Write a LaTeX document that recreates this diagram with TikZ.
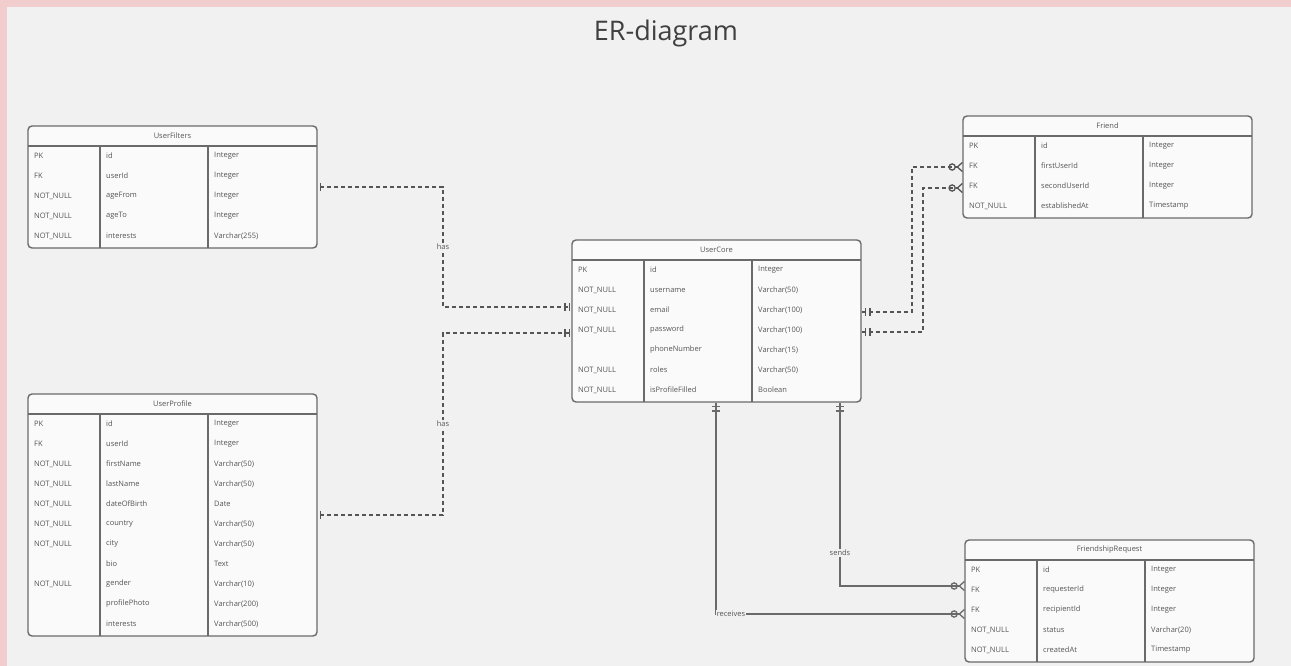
\documentclass[tikz,border=0pt]{standalone}
\usepackage{fontspec}
\setmainfont{Open Sans}
\usetikzlibrary{arrows.meta}

\definecolor{bgc}{HTML}{F1F1F1}
\definecolor{pinkc}{HTML}{F2CDCD}
\definecolor{tablec}{HTML}{FAFAFA}
\definecolor{linec}{HTML}{6A6A6A}
\definecolor{txtc}{HTML}{555555}

% name, west x, north y, number of rows, title, rows (key/name/type)
\newcommand{\ertable}[6]{%
  \node[tbl, minimum height={22+20*#4}, anchor=north west] (#1) at (#2,#3) {};
  \node[ttl] (#1-t) at (#2+144.5,#3+10) {#5};
  \draw[sepline] (#2,#3+20) -- (#2+289,#3+20);
  \draw[sepline] (#2+72,#3+20) -- (#2+72,#3+22+20*#4);
  \draw[sepline] (#2+180,#3+20) -- (#2+180,#3+22+20*#4);
  \foreach \rk/\rn/\rt [count=\i] in {#6} {
    \node[cell] (#1-k\i) at (#2+6,#3+10+20*\i) {\rk};
    \node[cell] (#1-n\i) at (#2+78,#3+10+20*\i) {\rn};
    \node[cell] (#1-y\i) at (#2+186,#3+10+20*\i) {\rt};
  }%
}

\begin{document}
\begin{tikzpicture}[
  x=1pt, y=-1pt,
  tbl/.style   = {draw=linec, fill=tablec, line width=1.4pt, rounded corners=4pt,
                  minimum width=289pt, inner sep=0pt, outer sep=0pt},
  ttl/.style   = {text=txtc, font=\fontsize{7.5}{9}\selectfont, inner sep=0pt},
  cell/.style  = {ttl, anchor=west},
  sepline/.style = {draw=linec, line width=1.4pt},
  lbl/.style   = {text=txtc, font=\fontsize{7.5}{9}\selectfont, fill=bgc, inner sep=1pt},
  dashrel/.style = {draw=txtc, line width=1.4pt, dash pattern=on 4pt off 3pt},
  solidrel/.style = {draw=linec, line width=1.8pt},
  % ER ends: one / mandatory one / zero or many
  hasrel/.style = {dashrel, arrows={Bar[width=0pt,line width=0.1pt,color=bgc,sep=3pt]Bar[width=8pt,line width=1.3pt,sep=0pt]}-{Bar[width=8pt,line width=1.3pt,sep=3pt]Bar[width=8pt,line width=1.3pt,sep=1pt]Bar[width=0pt,line width=0.1pt,color=bgc,sep=1pt]}},
  manyrel/.style = {arrows={Bar[width=0pt,line width=0.1pt,color=bgc,sep=1pt]Bar[width=8pt,line width=1.3pt,sep=3pt]Bar[width=8pt,line width=1.3pt,sep=3pt]}-{Circle[open,length=7.5pt,line width=1.3pt,sep=0.5pt]Straight Barb[reversed,length=5pt,width=9pt,line width=1.3pt]}},
]
\useasboundingbox (0,0) rectangle (1291,666);
\fill[bgc] (0,0) rectangle (1291,666);
\fill[pinkc] (0,0) rectangle (1291,7);
\fill[pinkc] (0,0) rectangle (7,666);

\node[text=black!75, font=\fontsize{27}{32}\selectfont] (title) at (666,33) {ER-diagram};

% --- tables ------------------------------------------------------------
\ertable{filters}{28}{126}{5}{UserFilters}{PK/id/Integer, FK/userId/Integer,
  NOT\_NULL/ageFrom/Integer, NOT\_NULL/ageTo/Integer, NOT\_NULL/interests/Varchar(255)}

\ertable{profile}{28}{394}{11}{UserProfile}{PK/id/Integer, FK/userId/Integer,
  NOT\_NULL/firstName/Varchar(50), NOT\_NULL/lastName/Varchar(50),
  NOT\_NULL/dateOfBirth/Date, NOT\_NULL/country/Varchar(50), NOT\_NULL/city/Varchar(50),
  /bio/Text, NOT\_NULL/gender/Varchar(10), /profilePhoto/Varchar(200), /interests/Varchar(500)}

\ertable{core}{572}{240}{7}{UserCore}{PK/id/Integer, NOT\_NULL/username/Varchar(50),
  NOT\_NULL/email/Varchar(100), NOT\_NULL/password/Varchar(100), /phoneNumber/Varchar(15),
  NOT\_NULL/roles/Varchar(50), NOT\_NULL/isProfileFilled/Boolean}

\ertable{friend}{963}{116}{4}{Friend}{PK/id/Integer, FK/firstUserId/Integer,
  FK/secondUserId/Integer, NOT\_NULL/establishedAt/Timestamp}

\ertable{request}{965}{540}{5}{FriendshipRequest}{PK/id/Integer, FK/requesterId/Integer,
  FK/recipientId/Integer, NOT\_NULL/status/Varchar(20), NOT\_NULL/createdAt/Timestamp}

% --- relations ---------------------------------------------------------
\draw[hasrel] (filters.east) -- ++(126,0)
  |- node[lbl, pos=0.25] {has} ([yshift=14pt]core.west);
\draw[hasrel] (profile.east) -- ++(126,0)
  |- node[lbl, pos=0.25] {has} ([yshift=-12pt]core.west);

\draw[dashrel, manyrel] ([yshift=9pt]core.east) -- ++(51,0) |- (friend.west);
\draw[dashrel, manyrel] ([yshift=-11pt]core.east) -- ++(62,0) |- ([yshift=-21pt]friend.west);

\draw[solidrel, manyrel] ([xshift=123.5pt]core.south)
  |- node[lbl, pos=0.41] {sends} ([yshift=15pt]request.west);
\draw[solidrel, manyrel] ([xshift=-0.5pt]core.south)
  |- node[lbl, pos=0.53] {receives} ([yshift=-13pt]request.west);

\end{tikzpicture}
\end{document}
